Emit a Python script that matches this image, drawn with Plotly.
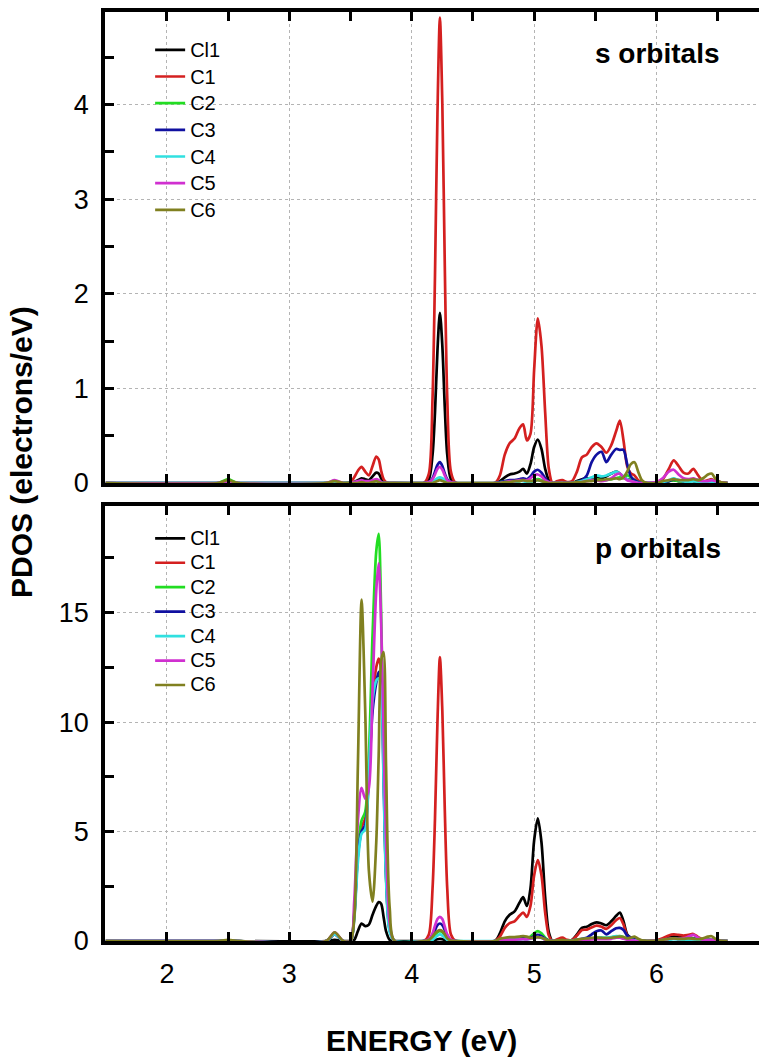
import plotly.graph_objects as go

# Shared energy grid (eV)
energy = [1.50, 2.42, 2.50, 2.58,
          3.30, 3.37, 3.44, 3.50, 3.53, 3.56, 3.59, 3.62, 3.65, 3.68, 3.71, 3.73, 3.75, 3.77, 3.79, 3.82, 3.86,
          4.10, 4.14, 4.17, 4.19, 4.21, 4.23, 4.25, 4.27, 4.29, 4.32, 4.36,
          4.68, 4.72, 4.76, 4.80, 4.84, 4.88, 4.91, 4.94, 4.97, 5.00, 5.03, 5.06, 5.09, 5.12, 5.15,
          5.19, 5.23, 5.27, 5.31, 5.35, 5.39, 5.43, 5.47, 5.51, 5.55, 5.59, 5.63, 5.67, 5.70, 5.73, 5.76, 5.79, 5.82, 5.85, 5.88, 5.92,
          6.00, 6.05, 6.10, 6.14, 6.18, 6.22, 6.26, 6.30, 6.34, 6.38, 6.42, 6.45, 6.48, 6.52, 6.58]

series_names = ["Cl1", "C1", "C2", "C3", "C4", "C5", "C6"]
series_colors = ["#000000", "#d42020", "#22dd22", "#1010a0", "#30e0e0", "#d030d0", "#808020"]

# s orbitals
s_cl1 = [0, 0, 0, 0,
         0, 0, 0, 0, 0.01, 0.03, 0.05, 0.04, 0.03, 0.07, 0.11, 0.10, 0.05, 0.01, 0, 0, 0,
         0, 0.04, 0.30, 0.75, 1.40, 1.80, 1.45, 0.80, 0.30, 0.04, 0,
         0, 0.02, 0.06, 0.09, 0.10, 0.12, 0.15, 0.10, 0.20, 0.38, 0.46, 0.36, 0.15, 0.03, 0,
         0, 0, 0, 0, 0.02, 0.04, 0.05, 0.05, 0.06, 0.05, 0.07, 0.10, 0.12, 0.10, 0.06, 0.04, 0.03, 0.02, 0.02, 0.01, 0,
         0, 0.01, 0.02, 0.03, 0.02, 0.02, 0.03, 0.02, 0.01, 0.01, 0.02, 0.01, 0.01, 0, 0]
s_c1 = [0, 0, 0.02, 0,
        0, 0.01, 0, 0.01, 0.06, 0.13, 0.17, 0.12, 0.08, 0.18, 0.28, 0.25, 0.13, 0.04, 0.01, 0, 0,
        0, 0.10, 0.90, 2.20, 3.90, 4.92, 4.00, 2.30, 0.90, 0.12, 0,
        0, 0.08, 0.30, 0.42, 0.47, 0.58, 0.62, 0.45, 0.52, 1.20, 1.74, 1.45, 0.75, 0.15, 0,
        0.02, 0.03, 0.01, 0.02, 0.12, 0.27, 0.30, 0.38, 0.42, 0.38, 0.32, 0.40, 0.55, 0.66, 0.45, 0.18, 0.10, 0.08, 0.03, 0.01, 0,
        0.01, 0.04, 0.15, 0.24, 0.18, 0.11, 0.10, 0.15, 0.08, 0.02, 0.03, 0.04, 0.02, 0.01, 0]
s_c2 = [0, 0, 0.04, 0,
        0, 0.01, 0, 0, 0.01, 0.01, 0.02, 0.01, 0.01, 0.02, 0.03, 0.02, 0.01, 0, 0, 0, 0,
        0, 0, 0.01, 0.02, 0.03, 0.04, 0.03, 0.02, 0.01, 0, 0,
        0, 0.01, 0.02, 0.02, 0.02, 0.02, 0.03, 0.02, 0.02, 0.03, 0.04, 0.03, 0.01, 0, 0,
        0, 0, 0, 0, 0.01, 0.02, 0.03, 0.03, 0.04, 0.03, 0.03, 0.04, 0.05, 0.06, 0.05, 0.08, 0.06, 0.03, 0.01, 0, 0,
        0, 0.01, 0.02, 0.03, 0.02, 0.02, 0.03, 0.03, 0.02, 0.01, 0.02, 0.03, 0.01, 0, 0]
s_c3 = [0, 0, 0, 0,
        0, 0, 0, 0, 0, 0.01, 0.02, 0.01, 0.01, 0.02, 0.03, 0.02, 0.01, 0, 0, 0, 0,
        0, 0.01, 0.05, 0.12, 0.19, 0.22, 0.18, 0.10, 0.04, 0.01, 0,
        0, 0.01, 0.02, 0.03, 0.03, 0.04, 0.05, 0.04, 0.07, 0.12, 0.14, 0.11, 0.05, 0.01, 0,
        0, 0, 0, 0, 0.01, 0.03, 0.08, 0.22, 0.30, 0.33, 0.22, 0.30, 0.36, 0.35, 0.35, 0.20, 0.07, 0.03, 0.01, 0, 0,
        0, 0.01, 0.02, 0.04, 0.03, 0.02, 0.03, 0.04, 0.03, 0.02, 0.01, 0.02, 0.01, 0, 0]
s_c4 = [0, 0, 0, 0,
        0, 0, 0, 0, 0, 0, 0.01, 0.01, 0, 0.01, 0.02, 0.01, 0, 0, 0, 0, 0,
        0, 0, 0.01, 0.03, 0.05, 0.06, 0.05, 0.03, 0.01, 0, 0,
        0, 0, 0.01, 0.01, 0.01, 0.02, 0.02, 0.01, 0.01, 0.02, 0.03, 0.02, 0.01, 0, 0,
        0, 0, 0, 0, 0.01, 0.02, 0.04, 0.06, 0.08, 0.07, 0.08, 0.10, 0.12, 0.10, 0.07, 0.04, 0.02, 0.01, 0, 0, 0,
        0, 0.01, 0.03, 0.05, 0.03, 0.02, 0.01, 0.02, 0.01, 0, 0.01, 0.01, 0, 0, 0]
s_c5 = [0, 0, 0.01, 0,
        0, 0.03, 0, 0, 0.01, 0.02, 0.03, 0.02, 0.02, 0.03, 0.04, 0.03, 0.01, 0, 0, 0, 0,
        0, 0.01, 0.04, 0.09, 0.15, 0.17, 0.14, 0.08, 0.03, 0.01, 0,
        0, 0, 0.01, 0.02, 0.02, 0.03, 0.03, 0.03, 0.05, 0.08, 0.09, 0.07, 0.03, 0.01, 0,
        0, 0, 0, 0, 0, 0.01, 0.02, 0.03, 0.03, 0.02, 0.03, 0.05, 0.09, 0.10, 0.06, 0.03, 0.02, 0.01, 0, 0, 0,
        0.01, 0.05, 0.12, 0.14, 0.09, 0.05, 0.04, 0.05, 0.03, 0.02, 0.02, 0.03, 0.02, 0.01, 0]
s_c6 = [0, 0, 0.03, 0,
        0, 0.02, 0, 0, 0, 0, 0.01, 0, 0, 0.01, 0.02, 0.01, 0, 0, 0, 0, 0,
        0, 0, 0, 0.01, 0.02, 0.03, 0.02, 0.01, 0, 0, 0,
        0, 0, 0.01, 0.01, 0.02, 0.02, 0.03, 0.02, 0.02, 0.02, 0.03, 0.02, 0.01, 0, 0,
        0, 0, 0, 0, 0.01, 0.01, 0.02, 0.02, 0.03, 0.03, 0.04, 0.04, 0.05, 0.04, 0.06, 0.12, 0.20, 0.22, 0.12, 0.03, 0,
        0, 0.02, 0.03, 0.04, 0.03, 0.03, 0.03, 0.04, 0.03, 0.05, 0.09, 0.10, 0.05, 0.01, 0]

# p orbitals
p_cl1 = [0, 0, 0.02, 0,
         0, 0.05, 0, 0, 0.05, 0.45, 0.80, 0.68, 0.75, 1.20, 1.60, 1.78, 1.70, 1.10, 0.45, 0.05, 0,
         0, 0, 0.02, 0.05, 0.08, 0.10, 0.08, 0.05, 0.02, 0, 0,
         0, 0.35, 0.90, 1.20, 1.35, 1.75, 2.00, 1.60, 2.40, 4.60, 5.60, 4.50, 2.00, 0.40, 0,
         0, 0, 0, 0.05, 0.30, 0.60, 0.65, 0.78, 0.85, 0.80, 0.72, 0.90, 1.15, 1.30, 0.90, 0.30, 0.15, 0.10, 0.05, 0.02, 0,
         0.02, 0.08, 0.15, 0.20, 0.18, 0.15, 0.15, 0.12, 0.06, 0.03, 0.05, 0.04, 0.02, 0.01, 0]
p_c1 = [0, 0, 0.02, 0,
        0, 0.30, 0, 0, 1.20, 4.00, 5.20, 5.60, 7.50, 11.00, 12.50, 12.90, 12.40, 8.00, 3.50, 0.60, 0,
        0, 0.30, 2.40, 5.60, 10.00, 12.97, 10.50, 6.00, 2.40, 0.30, 0,
        0, 0.20, 0.60, 0.82, 0.90, 1.15, 1.30, 1.10, 1.60, 3.00, 3.70, 3.00, 1.30, 0.25, 0,
        0.08, 0.15, 0.05, 0.05, 0.25, 0.50, 0.52, 0.62, 0.70, 0.65, 0.55, 0.72, 0.95, 1.05, 0.75, 0.25, 0.12, 0.08, 0.04, 0.02, 0,
        0.03, 0.12, 0.25, 0.30, 0.28, 0.25, 0.28, 0.32, 0.18, 0.06, 0.08, 0.06, 0.03, 0.01, 0]
p_c2 = [0, 0, 0.03, 0,
        0, 0.35, 0, 0, 1.30, 4.20, 5.50, 5.90, 8.50, 14.00, 17.80, 18.60, 15.00, 8.50, 3.00, 0.50, 0,
        0, 0.02, 0.10, 0.25, 0.40, 0.45, 0.40, 0.25, 0.10, 0.02, 0,
        0, 0.05, 0.10, 0.12, 0.12, 0.14, 0.15, 0.14, 0.20, 0.35, 0.45, 0.35, 0.15, 0.03, 0,
        0, 0, 0, 0.02, 0.05, 0.08, 0.10, 0.12, 0.14, 0.15, 0.14, 0.17, 0.20, 0.22, 0.18, 0.12, 0.08, 0.05, 0.02, 0.01, 0,
        0.01, 0.04, 0.08, 0.12, 0.10, 0.08, 0.10, 0.12, 0.08, 0.05, 0.07, 0.08, 0.04, 0.01, 0]
p_c3 = [0, 0, 0.01, 0,
        0, 0.30, 0, 0, 1.10, 3.90, 5.00, 5.30, 7.50, 10.50, 11.80, 12.30, 11.80, 7.50, 3.00, 0.50, 0,
        0, 0.05, 0.25, 0.50, 0.72, 0.80, 0.72, 0.50, 0.20, 0.04, 0,
        0, 0.03, 0.06, 0.08, 0.08, 0.10, 0.12, 0.10, 0.14, 0.22, 0.28, 0.22, 0.10, 0.02, 0,
        0, 0, 0, 0.02, 0.05, 0.10, 0.15, 0.30, 0.45, 0.48, 0.30, 0.45, 0.58, 0.60, 0.50, 0.25, 0.15, 0.08, 0.04, 0.01, 0,
        0.01, 0.04, 0.08, 0.12, 0.10, 0.08, 0.08, 0.10, 0.06, 0.03, 0.04, 0.04, 0.02, 0.01, 0]
p_c4 = [0, 0, 0.02, 0,
        0, 0.30, 0, 0, 1.00, 3.60, 4.90, 5.10, 7.80, 11.00, 11.90, 12.00, 11.50, 7.20, 2.80, 0.40, 0,
        0, 0, 0.05, 0.15, 0.25, 0.30, 0.25, 0.15, 0.05, 0, 0,
        0, 0.03, 0.05, 0.06, 0.06, 0.07, 0.08, 0.07, 0.10, 0.15, 0.18, 0.14, 0.06, 0.01, 0,
        0, 0, 0, 0.02, 0.05, 0.08, 0.10, 0.12, 0.14, 0.15, 0.14, 0.18, 0.22, 0.20, 0.15, 0.08, 0.05, 0.03, 0.01, 0, 0,
        0.01, 0.03, 0.06, 0.08, 0.06, 0.05, 0.06, 0.07, 0.05, 0.02, 0.03, 0.04, 0.02, 0.01, 0]
p_c5 = [0, 0, 0.02, 0,
        0, 0.40, 0, 0, 1.80, 5.50, 7.00, 6.50, 7.00, 11.50, 16.00, 17.25, 14.50, 9.50, 4.50, 0.80, 0,
        0, 0.08, 0.35, 0.70, 1.00, 1.10, 1.00, 0.65, 0.30, 0.05, 0,
        0, 0.03, 0.05, 0.06, 0.06, 0.07, 0.08, 0.07, 0.10, 0.15, 0.18, 0.15, 0.06, 0.01, 0,
        0, 0, 0, 0, 0.03, 0.05, 0.06, 0.07, 0.08, 0.08, 0.08, 0.10, 0.15, 0.15, 0.10, 0.06, 0.03, 0.02, 0, 0, 0,
        0.02, 0.06, 0.10, 0.12, 0.10, 0.12, 0.20, 0.28, 0.15, 0.05, 0.05, 0.06, 0.03, 0.01, 0]
p_c6 = [0, 0, 0.05, 0,
        0, 0.40, 0, 0, 1.00, 8.00, 15.60, 10.50, 3.20, 1.80, 4.50, 8.50, 12.80, 13.20, 8.00, 1.50, 0,
        0, 0.05, 0.20, 0.35, 0.45, 0.50, 0.45, 0.30, 0.12, 0.02, 0,
        0, 0.10, 0.15, 0.18, 0.18, 0.20, 0.22, 0.20, 0.15, 0.15, 0.18, 0.15, 0.08, 0.02, 0,
        0.03, 0.05, 0.02, 0.02, 0.06, 0.10, 0.12, 0.14, 0.15, 0.14, 0.13, 0.15, 0.18, 0.20, 0.18, 0.12, 0.15, 0.20, 0.10, 0.03, 0.01,
        0.02, 0.06, 0.10, 0.12, 0.10, 0.10, 0.12, 0.10, 0.08, 0.12, 0.20, 0.22, 0.10, 0.02, 0]

s_series = [s_cl1, s_c1, s_c2, s_c3, s_c4, s_c5, s_c6]
p_series = [p_cl1, p_c1, p_c2, p_c3, p_c4, p_c5, p_c6]

FONT = "Liberation Sans, Arial, sans-serif"

fig = go.Figure()
for name, color, ys in zip(series_names, series_colors, s_series):
    fig.add_trace(go.Scatter(x=energy, y=ys, mode="lines",
                             name=f"<span style='font-size:20px'>{name}</span>",
                             line=dict(color=color, width=2.7, shape="spline", smoothing=0.8),
                             xaxis="x", yaxis="y", legend="legend"))
for name, color, ys in zip(series_names, series_colors, p_series):
    fig.add_trace(go.Scatter(x=energy, y=ys, mode="lines",
                             name=f"<span style='font-size:20px'>{name}</span>",
                             line=dict(color=color, width=2.7, shape="spline", smoothing=0.8),
                             xaxis="x2", yaxis="y2", legend="legend2"))

axis_common = dict(showline=True, linewidth=3.5, linecolor="black", ticks="inside",
                   ticklen=9, tickwidth=3, tickcolor="black", zeroline=False,
                   showgrid=True, gridcolor="#b4b4b4", griddash="dot", gridwidth=1,
                   tickfont=dict(family=FONT, size=27, color="black"))
minor_common = dict(ticks="inside", ticklen=9, tickwidth=3, tickcolor="black", showgrid=False)

xr = [1.494, 6.837]
fig.update_layout(
    width=759, height=1059,
    margin=dict(l=105, r=0, t=12, b=118),
    paper_bgcolor="white", plot_bgcolor="white",
    font=dict(family=FONT, color="black"),
    xaxis=dict(domain=[0, 1], anchor="y", range=xr, dtick=1, showticklabels=False,
               mirror="ticks", minor=dict(dtick=0.5, **minor_common), **axis_common),
    yaxis=dict(domain=[0.493, 1], anchor="x", range=[0, 4.98], dtick=1, ticklabelstandoff=7,
               minor=dict(dtick=0.5, **minor_common), **axis_common),
    xaxis2=dict(domain=[0, 1], anchor="y2", range=xr, dtick=1, ticklabelstandoff=6,
                mirror="ticks", minor=dict(dtick=0.5, **minor_common), **axis_common),
    yaxis2=dict(domain=[0, 0.468], anchor="x2", range=[0, 19.86], dtick=5, ticklabelstandoff=7,
                minor=dict(dtick=2.5, **minor_common), **axis_common),
    legend=dict(x=0.069, y=0.979, xanchor="left", yanchor="top", bgcolor="rgba(0,0,0,0)",
                font=dict(family=FONT, size=18.2, color="black"), tracegroupgap=0),
    legend2=dict(x=0.069, y=0.452, xanchor="left", yanchor="top", bgcolor="rgba(0,0,0,0)",
                 font=dict(family=FONT, size=16.5, color="black"), tracegroupgap=0),
    annotations=[
        dict(text="<b>s orbitals</b>", xref="paper", yref="paper", x=(657 - 105) / 654, y=(941 - 53) / 929,
             showarrow=False, font=dict(family=FONT, size=28, color="black"), xanchor="center", yanchor="middle"),
        dict(text="<b>p orbitals</b>", xref="paper", yref="paper", x=(658 - 105) / 654, y=(941 - 548) / 929,
             showarrow=False, font=dict(family=FONT, size=28, color="black"), xanchor="center", yanchor="middle"),
        dict(text="<b>ENERGY (eV)</b>", xref="paper", yref="paper", x=(421 - 105) / 654, y=(941 - 1040) / 929,
             showarrow=False, font=dict(family=FONT, size=30, color="black"), xanchor="center", yanchor="middle"),
        dict(text="<b>PDOS (electrons/eV)</b>", xref="paper", yref="paper", x=(22 - 105) / 654, y=(941 - 452) / 929,
             showarrow=False, textangle=-90, font=dict(family=FONT, size=30, color="black"), xanchor="center", yanchor="middle"),
    ],
)

fig.write_html("out.html")
